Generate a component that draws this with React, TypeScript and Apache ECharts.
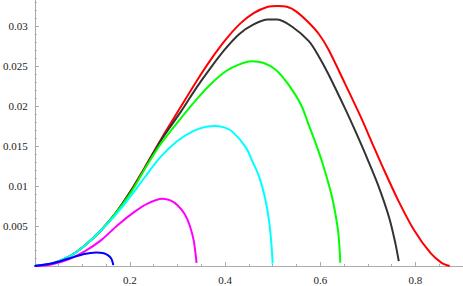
import React, { useEffect, useRef } from "react";
import * as echarts from "echarts";

const xTicks = [0.2, 0.4, 0.6, 0.8];
const yTicks = [0.005, 0.01, 0.015, 0.02, 0.025, 0.03];

const redData: [number, number][] = [
  [0, 0], [0.035, 0.0003], [0.07, 0.0011], [0.104, 0.0025], [0.14, 0.0045], [0.17, 0.0066],
  [0.2, 0.0092], [0.23, 0.0122], [0.264, 0.0157], [0.306, 0.0198], [0.34, 0.0231], [0.37, 0.0258],
  [0.4, 0.0282], [0.43, 0.0302], [0.46, 0.0316], [0.49, 0.0324], [0.51, 0.0325], [0.53, 0.0324],
  [0.55, 0.0318], [0.576, 0.0304], [0.597, 0.029], [0.617, 0.0271], [0.652, 0.0228], [0.687, 0.0184],
  [0.711, 0.0151], [0.728, 0.0128], [0.763, 0.0083], [0.797, 0.0045], [0.832, 0.0016], [0.855, 0.0004],
  [0.872, 0],
];
const blackData: [number, number][] = [
  [0, 0], [0.035, 0.0003], [0.07, 0.0011], [0.104, 0.0025], [0.14, 0.0045], [0.17, 0.0066],
  [0.2, 0.0092], [0.23, 0.0121], [0.264, 0.0156], [0.306, 0.0192], [0.34, 0.0223], [0.37, 0.0248],
  [0.4, 0.0271], [0.43, 0.029], [0.46, 0.0302], [0.49, 0.0308], [0.51, 0.0308], [0.541, 0.0299],
  [0.576, 0.0281], [0.597, 0.0262], [0.617, 0.024], [0.652, 0.0197], [0.675, 0.0167], [0.694, 0.0141],
  [0.721, 0.0102], [0.745, 0.006], [0.758, 0.0028], [0.765, 0.0006],
];
const greenData: [number, number][] = [
  [0, 0], [0.035, 0.0003], [0.07, 0.0011], [0.104, 0.0025], [0.14, 0.0045], [0.17, 0.0066],
  [0.2, 0.009], [0.23, 0.012], [0.264, 0.0152], [0.306, 0.0184], [0.341, 0.0209], [0.369, 0.0227],
  [0.403, 0.0244], [0.43, 0.0252], [0.455, 0.0256], [0.48, 0.0254], [0.507, 0.0245], [0.534, 0.0226],
  [0.56, 0.0201], [0.576, 0.0176], [0.59, 0.0154], [0.604, 0.013], [0.624, 0.0088], [0.637, 0.0046],
  [0.641, 0.0018], [0.642, 0.0004],
];
const cyanData: [number, number][] = [
  [0, 0], [0.035, 0.0003], [0.07, 0.0011], [0.104, 0.0025], [0.14, 0.0045], [0.17, 0.0064],
  [0.2, 0.0086], [0.23, 0.011], [0.264, 0.0136], [0.299, 0.0156], [0.334, 0.0169], [0.36, 0.0174],
  [0.38, 0.0175], [0.4, 0.0173], [0.417, 0.0167], [0.444, 0.0148], [0.458, 0.013], [0.472, 0.0111],
  [0.484, 0.0085], [0.492, 0.0058], [0.497, 0.003], [0.5, 0.0003],
];
const magentaData: [number, number][] = [
  [0, 0], [0.035, 0.0002], [0.07, 0.0008], [0.104, 0.0018], [0.139, 0.0032], [0.174, 0.0051],
  [0.208, 0.0067], [0.237, 0.0078], [0.268, 0.0084], [0.285, 0.0082], [0.3, 0.0076], [0.315, 0.0065],
  [0.326, 0.005], [0.334, 0.0032], [0.338, 0.0015], [0.34, 0.0004],
];
const blueData: [number, number][] = [
  [0, 0], [0.035, 0.0003], [0.07, 0.0009], [0.104, 0.0015], [0.129, 0.0017], [0.145, 0.0016],
  [0.155, 0.0013], [0.161, 0.0009], [0.164, 0.0004], [0.165, 0.0001],
];

const seriesList = [
  { name: "red", color: "#ff0000", data: redData },
  { name: "black", color: "#333333", data: blackData },
  { name: "green", color: "#00ff00", data: greenData },
  { name: "cyan", color: "#00ffff", data: cyanData },
  { name: "magenta", color: "#ff00ff", data: magentaData },
  { name: "blue", color: "#0000ff", data: blueData },
];

const FONT = "'Liberation Serif', 'Times New Roman', serif";

export default function App() {
  const ref = useRef<HTMLDivElement>(null);
  useEffect(() => {
    if (!ref.current) return;
    const chart = echarts.init(ref.current, undefined, { renderer: "svg" });
    const near = (v: number, arr: number[]) => arr.some((t) => Math.abs(t - v) < 1e-9);
    chart.setOption({
      animation: false,
      backgroundColor: "#ffffff",
      textStyle: { fontFamily: FONT },
      grid: { left: 33, right: 0, top: 0, bottom: 20, containLabel: false },
      xAxis: {
        type: "value",
        min: 0,
        max: 0.9,
        interval: 0.2,
        axisLine: { show: true, onZero: false, lineStyle: { color: "#aaaaaa", width: 1 } },
        axisTick: { show: true, inside: true, length: 4, lineStyle: { color: "#aaaaaa" } },
        minorTick: { show: true, splitNumber: 4, length: 2, lineStyle: { color: "#aaaaaa" } },
        splitLine: { show: false },
        axisLabel: {
          margin: 8,
          fontFamily: FONT,
          fontSize: 11,
          color: "#222222",
          formatter: (v: number) => (near(v, xTicks) ? String(Math.round(v * 10) / 10) : ""),
        },
      },
      yAxis: {
        type: "value",
        min: 0,
        max: 0.035,
        interval: 0.005,
        axisLine: { show: true, onZero: false, lineStyle: { color: "#aaaaaa", width: 1 } },
        axisTick: { show: true, inside: true, length: 4, lineStyle: { color: "#aaaaaa" } },
        minorTick: { show: true, splitNumber: 5, length: 2, lineStyle: { color: "#aaaaaa" } },
        splitLine: { show: false },
        axisLabel: {
          margin: 7,
          fontFamily: FONT,
          fontSize: 11,
          color: "#222222",
          formatter: (v: number) => (near(v, yTicks) ? String(Math.round(v * 1000) / 1000) : ""),
        },
      },
      series: seriesList.map((s) => ({
        name: s.name,
        type: "line",
        data: s.data,
        smooth: 0.3,
        symbol: "none",
        clip: false,
        lineStyle: { color: s.color, width: 2 },
      })),
    });
    return () => chart.dispose();
  }, []);
  return (
    <div
      style={{
        position: "fixed",
        left: 0,
        top: 0,
        width: 463,
        height: 286,
        overflow: "hidden",
        background: "#fff",
      }}
    >
      <div
        ref={ref}
        style={{ position: "absolute", left: 0, top: -14, width: 466, height: 300 }}
      />
    </div>
  );
}
